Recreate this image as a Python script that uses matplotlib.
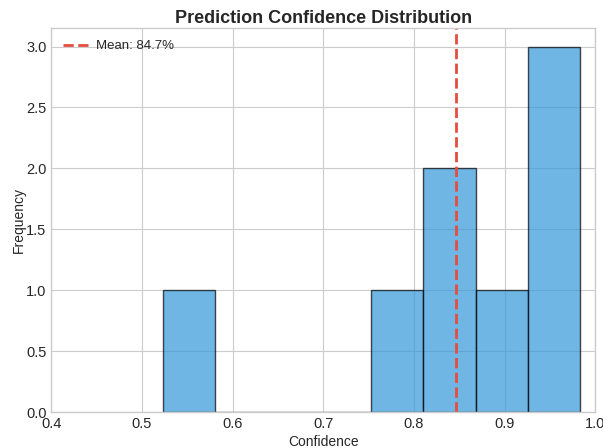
import matplotlib
matplotlib.use("Agg")
import matplotlib.pyplot as plt
import numpy as np

# confidence scores of the predictions
confidences = [0.523, 0.78, 0.83, 0.85, 0.89, 0.95, 0.97, 0.983]
n_bins = 8

plt.style.use("seaborn-v0_8-whitegrid")
plt.rcParams["font.family"] = ["Liberation Sans", "DejaVu Sans"]

fig, ax = plt.subplots(figsize=(6.03, 4.48), dpi=100)

ax.hist(confidences, bins=n_bins, color="#3498db", alpha=0.7, edgecolor="black", linewidth=1)
mean_conf = np.mean(confidences)
ax.axvline(mean_conf, color="#e74c3c", linestyle="--", linewidth=2, label=f"Mean: {mean_conf:.1%}")

ax.set_xlim(0.4, 1.0)
ax.set_xlabel("Confidence", fontsize=10, labelpad=3)
ax.set_ylabel("Frequency", fontsize=10, labelpad=0)
ax.set_title("Prediction Confidence Distribution", fontsize=13, fontweight="bold", pad=4)
ax.tick_params(labelsize=10.5)
ax.legend(loc="upper left", fontsize=9.5, handlelength=1.9, handletextpad=0.6)

fig.subplots_adjust(left=0.085, right=0.987, top=0.937, bottom=0.08)
plt.savefig("out.png", dpi=100)
plt.close()
